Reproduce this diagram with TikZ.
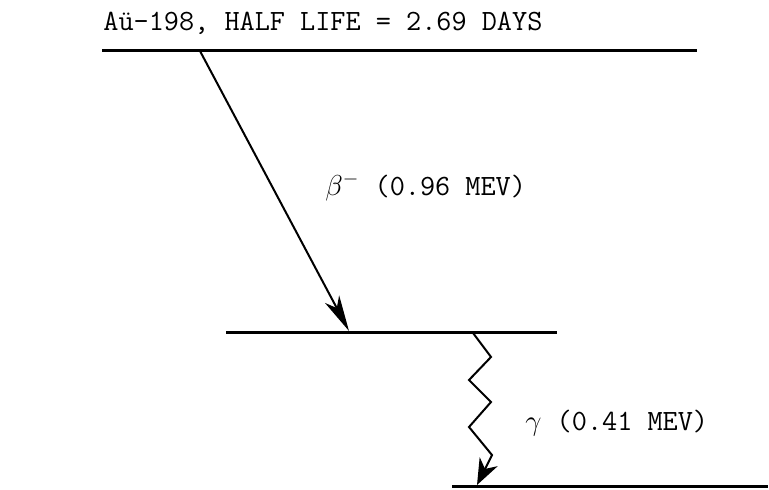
\documentclass[tikz,border=0pt]{standalone}
\usepackage{fontspec}
\usepackage{tikz}
\usetikzlibrary{arrows.meta}

\begin{document}
\begin{tikzpicture}[
      x=0.5pt, y=-0.5pt,
      every node/.style={font=\fontsize{14.7}{17}\ttfamily, inner sep=0pt},
      level/.style={line width=1.5pt},
      decay/.style={line width=1pt, -{Stealth[length=18pt, width=8pt, inset=5pt]}},
      gammaray/.style={line width=1pt, line join=miter, -{Stealth[length=13pt, width=10pt, inset=4pt]}}
    ]
      \useasboundingbox (0,0) rectangle (769,489);

      % energy levels
      \coordinate (topL) at (102,50);
      \coordinate (topR) at (697,50);
      \coordinate (midL) at (226,332);
      \coordinate (midR) at (557,332);
      \coordinate (lowL) at (452,486);
      \coordinate (lowR) at (768,486);
      \draw[level] (topL) -- (topR);
      \draw[level] (midL) -- (midR);
      \draw[level] (lowL) -- (lowR);

      % transitions
      \coordinate (betaA) at (200,51);
      \coordinate (betaB) at (349,331);
      \draw[decay] (betaA) -- (betaB);

      \coordinate (gamA) at (473,333);
      \coordinate (gamB) at (477,485);
      \draw[gammaray] (gamA) -- (491,357) -- (469,380) -- (491,402)
        -- (469,427) -- (492,455) -- (gamB);

      \node[anchor=base west] (parent) at (103,30) {Aü-198, HALF LIFE = 2.69 DAYS};
      \node[anchor=base west] (betalabel) at (325,195) {$\beta^{-}$ (0.96 MEV)};
      \node[anchor=base west] (gamlabel) at (525,430) {$\gamma$ (0.41 MEV)};
    \end{tikzpicture}
\end{document}
